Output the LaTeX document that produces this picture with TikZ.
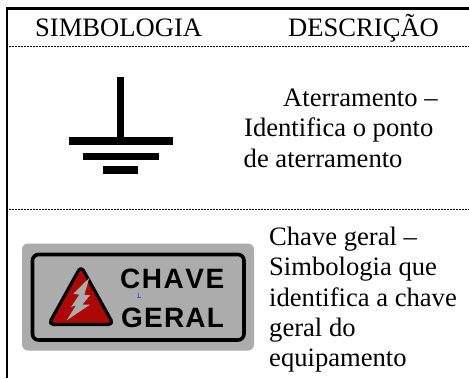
\documentclass[tikz,border=0pt]{standalone}
\usepackage{fontspec}
\setmainfont{Liberation Serif}
\newfontfamily\signfont{Liberation Sans}
\tikzset{
  x=1pt,y=-1pt,
  body/.style={font=\fontsize{26.6}{26.6}\selectfont,anchor=base west,inner sep=0pt,text=black},
  frame/.style={line width=2.2pt,black},
  sep/.style={line width=0.9pt,black,dotted,dash pattern=on 1pt off 0.5pt},
  signtxt/.style={font=\signfont\fontsize{28}{28}\selectfont\bfseries,anchor=base west,inner sep=0pt},
}
\definecolor{signgray}{RGB}{172,172,172}
\definecolor{signred}{RGB}{172,8,8}
\begin{document}
\begin{tikzpicture}
\useasboundingbox (0,0) rectangle (469,378);
\fill[white] (0,0) rectangle (469,378);
\coordinate (tl) at (6.8,8.5);
\coordinate (tr) at (469,8.5);
\coordinate (bl) at (6.8,378);
\draw[frame] (tr) -- (tl) -- (bl);
\coordinate (s1a) at (7,46); \coordinate (s1b) at (469,46);
\coordinate (s2a) at (7,209.5); \coordinate (s2b) at (469,209.5);
\draw[sep] (s1a) -- (s1b);
\draw[sep] (s2a) -- (s2b);
\node[body] (h1) at (35,36) {SIMBOLOGIA};
\node[body] (h2) at (288,36) {DESCRIÇÃO};
\fill[black] (117,77) rectangle (124,140);
\fill[black] (69,137) rectangle (173,145);
\fill[black] (83,153) rectangle (159,160);
\fill[black] (103,166) rectangle (138,174);
\node[body] (t1) at (283,106) {Aterramento –};
\node[body] (t2) at (244,136) {Identifica o ponto};
\node[body] (t3) at (243.5,167) {de aterramento};
\fill[signgray,rounded corners=6pt] (22,243.5) rectangle (254,350.5);
\draw[black,line width=3.6pt,rounded corners=6pt] (32.5,254.5) rectangle (244,340);
\draw[black,line width=3.2pt,fill=signred,line join=round,rounded corners=5pt] (81,266) -- (113.5,324.5) -- (48.5,324.5) -- cycle;
\fill[signgray] (89.3,278) -- (73.3,293.7) -- (79.3,294.7) -- (71,307) -- (76,305.3) -- (66.7,320.3) -- (90,304.7) -- (82.3,304.7) -- (90,295.3) -- (84.3,294.7) -- cycle;
\node[signtxt] (c1) at (120,288) {C\kern1.5pt H\kern1.5pt A\kern1.5pt V\kern1.5pt E};
\node[signtxt] (c2) at (121,327.5) {G\kern1.2pt E\kern1.2pt R\kern1.2pt A\kern1.2pt L};
\draw[blue!70,line width=0.4pt] (138.5,293) -- (138.5,297) (137,297) -- (140.5,297);
\node[body] (d1) at (269,245) {Chave geral –};
\node[body] (d2) at (269,275) {Simbologia que};
\node[body] (d3) at (269,306) {identifica a chave};
\node[body] (d4) at (269,336) {geral do};
\node[body] (d5) at (269,366) {equipamento};
\end{tikzpicture}
\end{document}
